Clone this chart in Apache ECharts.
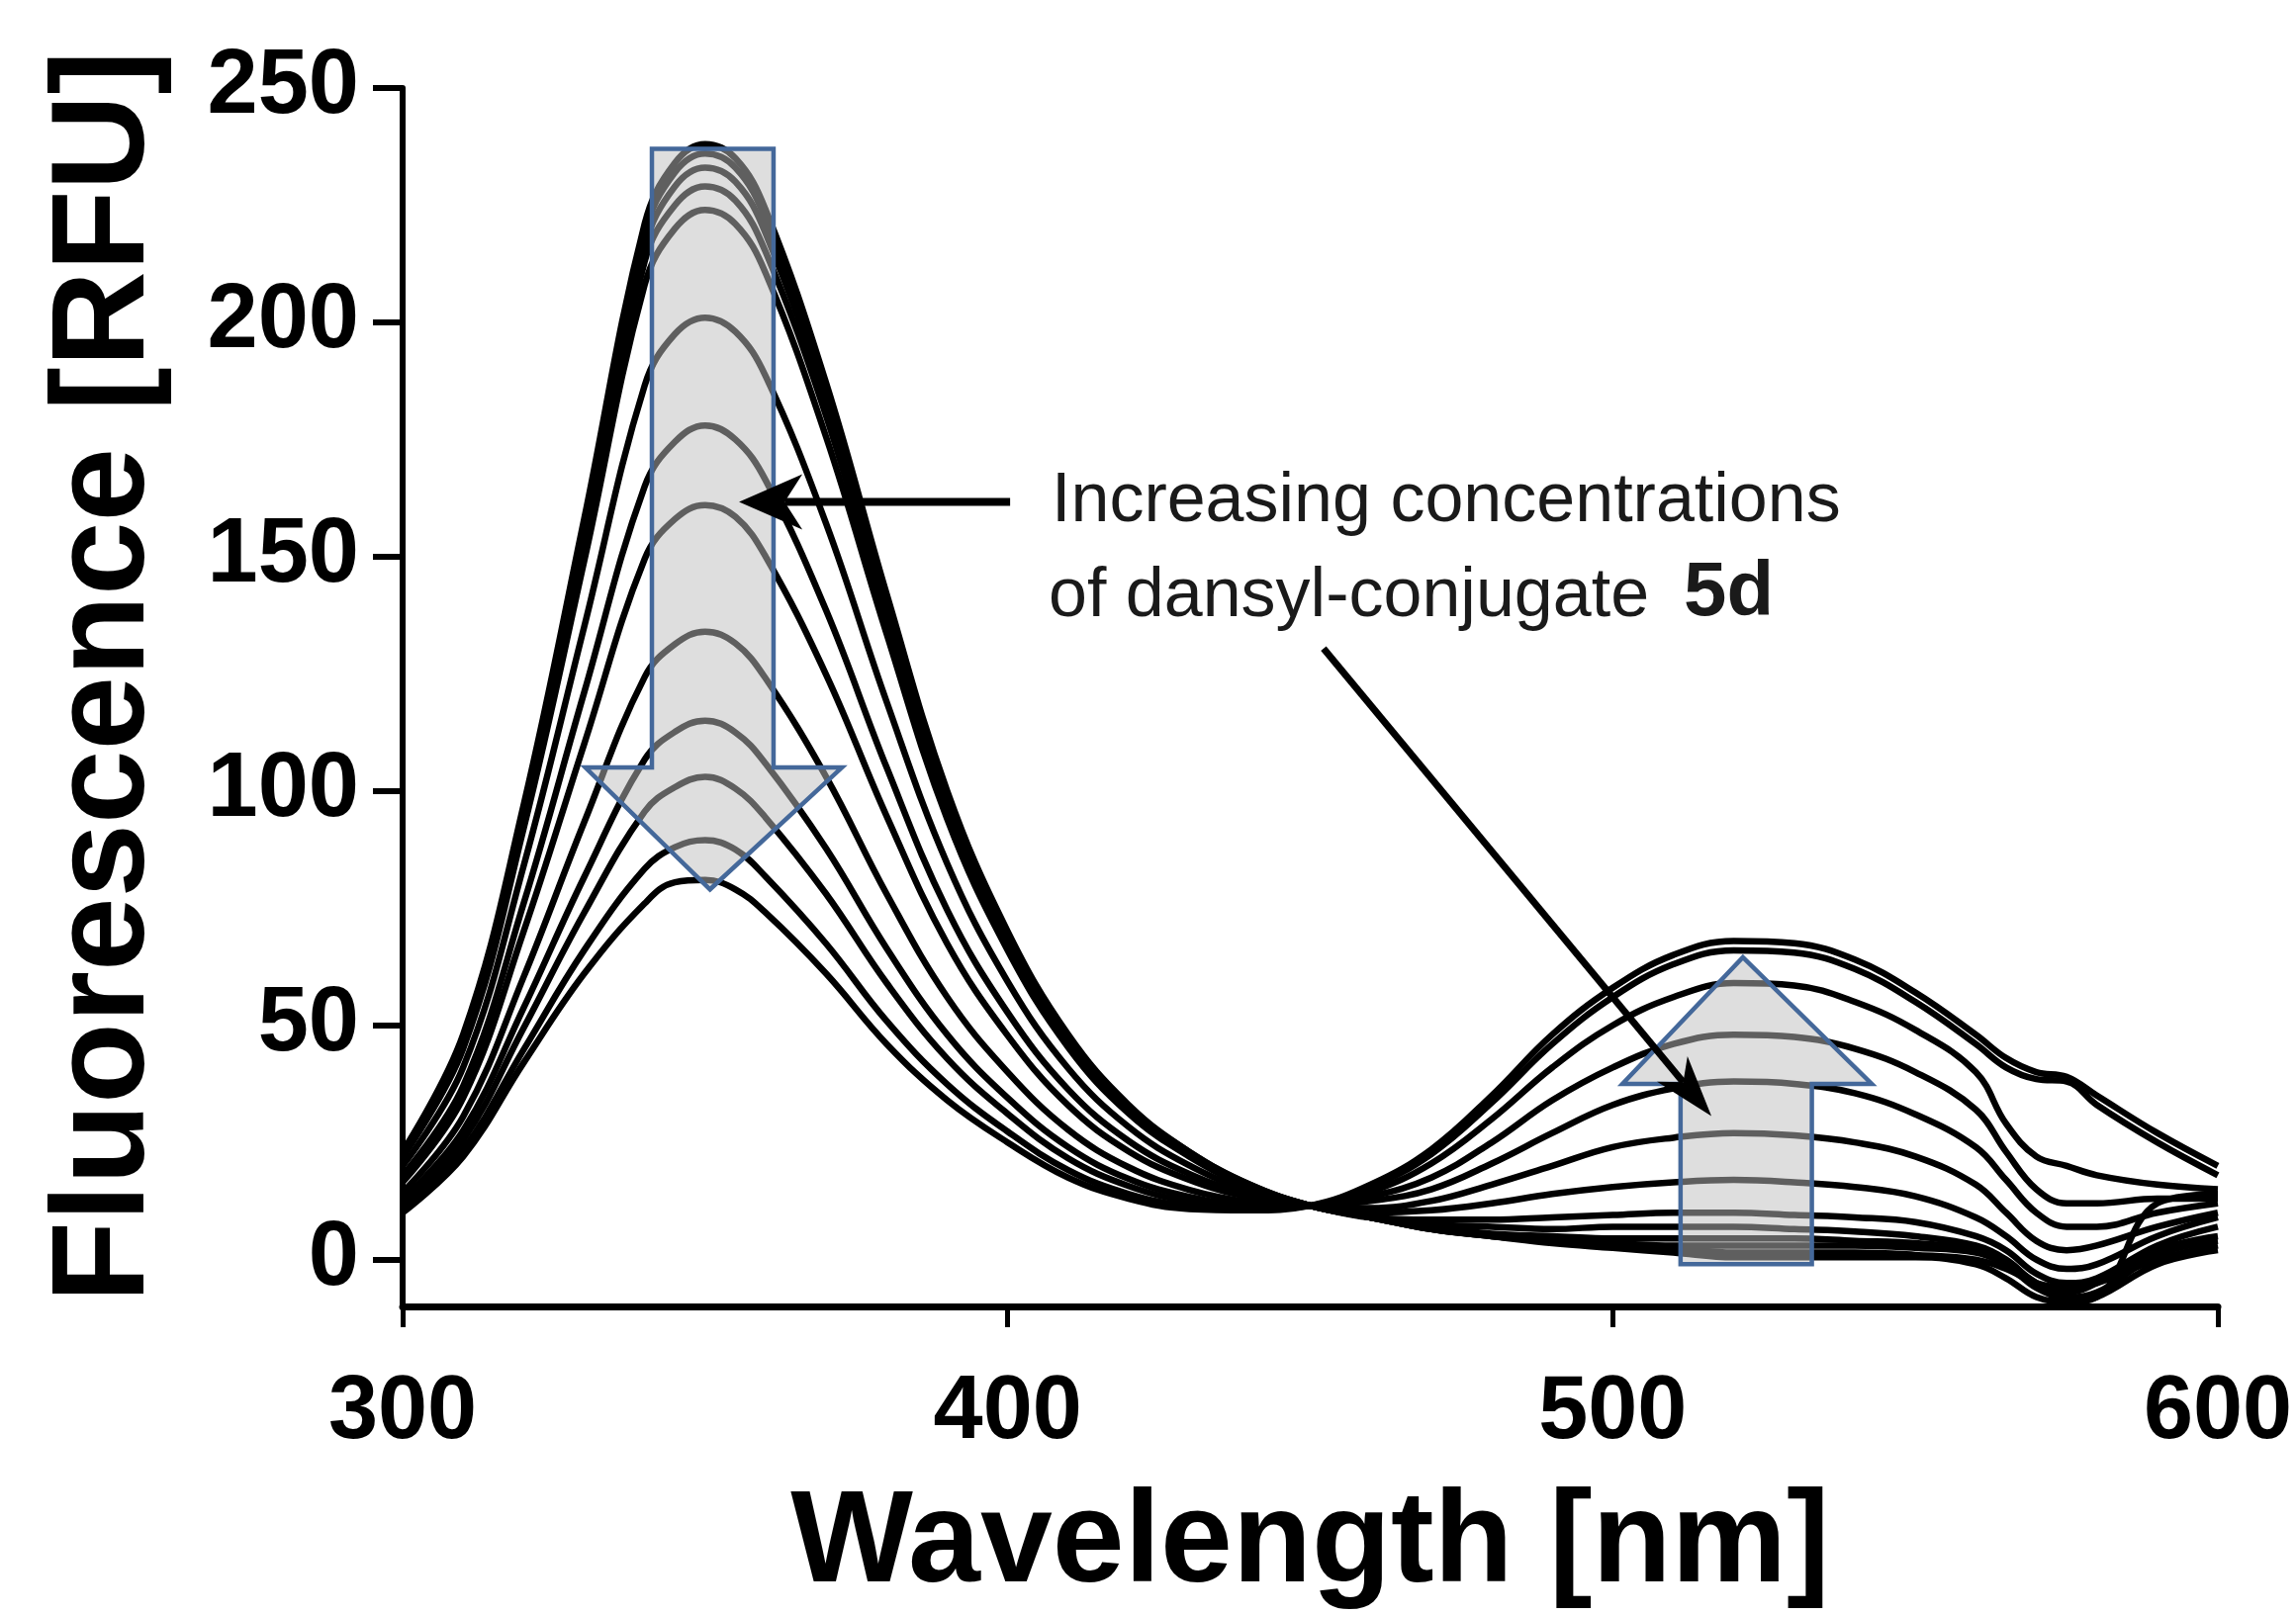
<!DOCTYPE html>
<html>
<head>
<meta charset="utf-8">
<title>Fluorescence vs wavelength</title>
<script src="https://cdn.jsdelivr.net/npm/echarts@6/dist/echarts.min.js"></script>
<style>
  html, body { margin: 0; padding: 0; background: #fff; }
  #chart { width: 2321px; height: 1633px; }
</style>
</head>
<body>
<div id="chart"></div>
<script>
// emission wavelengths [nm]
var wavelengths = [300, 310, 320, 330, 340, 345, 350, 355, 360, 370, 380, 390, 400, 410, 420, 430, 440, 450,
  460, 470, 480, 490, 500, 510, 520, 530, 540, 550, 560, 565, 570, 575, 580, 590, 600];
var xTicks = [300, 400, 500, 600];
var yTicks = [0, 50, 100, 150, 200, 250];

// spectra [RFU], lowest dansyl concentration first
var spec0 = [23, 48, 97, 158, 221, 234, 238, 235, 224, 187, 142, 100, 70, 48, 33, 23, 16, 11.5,
  9, 6.5, 5, 3.5, 2.5, 1.5, 0.5, 0.5, 0.5, 0.5, -1, -4, -8, -9, -8, -1, 2];
var spec1 = [23, 47.5, 96, 157, 219, 232, 236, 233, 222, 185.5, 141, 99, 69.5, 47.5, 32.5, 23, 16, 11.5,
  9, 6.5, 5, 4, 3, 2.5, 1.5, 1.5, 1.5, 1, 0, -2, -5, -6, -5, 0, 3];
var spec2 = [22.5, 46.5, 95, 155, 216, 229, 233, 230, 219, 183, 139, 98, 68.5, 47, 32.5, 22.5, 15.8, 11.5,
  9, 6.5, 5, 4, 3.5, 3, 3, 3, 3, 2.5, 1.5, -1, -5, -9, -8, 12, 14];
var spec3 = [22, 45.5, 94, 152, 213, 225, 229, 226, 215, 180, 136.5, 96, 67.5, 46, 32, 22.3, 15.7, 11.5,
  9, 7, 5.5, 5, 4.5, 4.5, 4.5, 4.5, 4, 3.5, 2, -1, -6, -8, -7, 1, 4];
var spec4 = [22, 45, 92, 149, 208, 220, 224, 221, 210.5, 175.5, 133.5, 94, 66, 45.3, 31.2, 22, 15.5, 11.5,
  9, 7.5, 7, 6.5, 7, 7, 7, 6.5, 6, 5, 3, 0, -5, -7, -5, 2, 5];
var spec5 = [20, 41, 84, 135, 186.5, 197.5, 201, 198, 188.5, 157, 119, 84.5, 59.3, 40.8, 28.3, 20.1, 14.7, 11.5,
  9, 8.5, 8.5, 9, 9.5, 10, 10, 9.5, 9, 8, 5, 2, -3, -5, -4, 3, 7];
var spec6 = [18, 37, 76, 121, 165, 174.5, 178, 175, 166.3, 138.5, 105, 74.6, 52.7, 36.3, 25.3, 18.3, 13.9, 11.5,
  10, 10.5, 12, 14, 15.5, 16.5, 17, 16.5, 15.5, 13.5, 9, 5, 0, -2, -1, 5, 9];
var spec7 = [16.5, 34.5, 70, 110, 149.5, 158, 161, 158.5, 150, 124.8, 94.6, 67.4, 47.8, 32.9, 23.1, 17, 13.3, 11.5,
  11, 12.5, 16, 20, 24, 26, 27, 26.5, 25, 22, 16, 10, 4, 2, 3, 7, 10];
var spec8 = [14.3, 30.5, 60.3, 93.3, 124.3, 131.3, 134, 131.5, 124, 103, 78, 56, 40, 27.7, 19.7, 14.9, 12.3, 11.5,
  12.5, 15, 20.5, 27, 33, 36.5, 38, 37.5, 35.5, 31, 24, 17, 10, 7, 7, 10, 12];
var spec9 = [12.8, 27.5, 53.7, 81.6, 106.7, 112.6, 115, 112.5, 105.8, 87.7, 66.4, 48, 34.5, 24, 17.2, 13.4, 11.7, 11.5,
  13.5, 17.5, 25, 34, 41, 46, 48, 47.5, 45, 40, 32, 23, 15, 12, 12, 13, 13];
var spec10 = [11.8, 25.5, 49.4, 74, 95.6, 100.8, 103, 100.5, 94.3, 78, 59, 42.9, 31.1, 21.6, 15.7, 12.4, 11.2, 11.5,
  14.5, 20.5, 30, 41, 50, 56, 59, 58.5, 55, 49, 40, 29, 22, 20, 18, 16, 15];
var spec11 = [10.7, 23.5, 44.8, 66, 83.4, 88, 89.5, 87.5, 81.7, 67.4, 50.9, 37.4, 27.3, 19.1, 14, 11.4, 10.8, 11.5,
  15.5, 22.5, 33.5, 46, 56, 63, 66, 65.5, 62, 55, 46, 41, 38.5, 38, 33, 25, 18];
var spec12 = [10, 22, 42, 61, 76, 80.5, 81, 79, 74, 61, 46, 34, 25, 17.5, 13, 10.8, 10.5, 11.5,
  16, 23.5, 35, 48, 58, 65, 68, 67.5, 64, 57, 48, 43, 40, 39, 35, 27, 20];

var spectra = [spec0, spec1, spec2, spec3, spec4, spec5, spec6, spec7, spec8, spec9, spec10, spec11, spec12];

// annotation geometry in data units [nm, RFU]
var downArrow = [[341.2, 237], [361.3, 237], [361.3, 105], [372.6, 105], [350.8, 79], [330.2, 105], [341.2, 105]];
var upArrow = [[511.2, -1], [532.9, -1], [532.9, 37.5], [542.8, 37.5], [521.5, 64.5], [501.6, 37.5], [511.2, 37.5]];
var pointer1 = { from: [400.4, 161.7], to: [355.6, 161.7] };
var pointer2 = { from: [452.2, 130.4], to: [516.3, 30.6] };

var FONT = '"Liberation Sans", Arial, Helvetica, sans-serif';

var chart = echarts.init(document.getElementById('chart'));

var series = spectra.map(function (vals, k) {
  return {
    name: 'c' + k,
    type: 'line',
    smooth: 0.4,
    symbol: 'none',
    lineStyle: { color: '#000', width: 6.5 },
    data: wavelengths.map(function (w, i) { return [w, vals[i]]; }),
    z: 2
  };
});

var option = {
  backgroundColor: '#fff',
  animation: false,
  grid: { left: 407, right: 79, top: 89, bottom: 304, containLabel: false },
  xAxis: {
    type: 'value',
    min: 300,
    max: 600,
    interval: 100,
    name: 'Wavelength [nm]',
    nameLocation: 'middle',
    nameGap: 176,
    nameTextStyle: { fontFamily: FONT, fontWeight: 'bold', fontSize: 131, color: '#000' },
    axisLine: { onZero: false, lineStyle: { color: '#000', width: 7 } },
    axisTick: { show: true, length: 21, lineStyle: { color: '#000', width: 5 } },
    axisLabel: {
      margin: 63,
      fontFamily: FONT,
      fontWeight: 'bold',
      fontSize: 90,
      color: '#000',
      customValues: xTicks
    },
    splitLine: { show: false }
  },
  yAxis: {
    type: 'value',
    min: -10,
    max: 250,
    name: 'Fluorescence [RFU]',
    nameLocation: 'middle',
    nameGap: 232,
    nameTextStyle: { fontFamily: FONT, fontWeight: 'bold', fontSize: 134, color: '#000', padding: [0, 0, 0, 42] },
    axisLine: { show: true, lineStyle: { color: '#000', width: 6 } },
    axisTick: { show: true, length: 30, lineStyle: { color: '#000', width: 6 }, customValues: yTicks },
    axisLabel: {
      margin: 44,
      fontFamily: FONT,
      fontWeight: 'bold',
      fontSize: 92,
      color: '#000',
      customValues: yTicks
    },
    splitLine: { show: false }
  },
  series: series
};

chart.setOption(option);

function px(p) { return chart.convertToPixel({ gridIndex: 0 }, p); }

function pointer(a, lineW, len, half) {
  var tail = px(a.from), tip = px(a.to);
  var dx = tip[0] - tail[0], dy = tip[1] - tail[1];
  var d = Math.sqrt(dx * dx + dy * dy);
  var ux = dx / d, uy = dy / d, nx = -uy, ny = ux;
  var bx = tip[0] - ux * len, by = tip[1] - uy * len;
  var notch = [tip[0] - ux * len * 0.72, tip[1] - uy * len * 0.72];
  return [
    {
      type: 'line', z: 60,
      shape: { x1: tail[0], y1: tail[1], x2: notch[0], y2: notch[1] },
      style: { stroke: '#000', lineWidth: lineW }
    },
    {
      type: 'polygon', z: 61,
      shape: { points: [tip, [bx + nx * half, by + ny * half], notch, [bx - nx * half, by - ny * half]] },
      style: { fill: '#000' }
    }
  ];
}

function blockArrow(pts) {
  return {
    type: 'polygon', z: 50,
    shape: { points: pts.map(px) },
    style: { fill: 'rgba(190,190,190,0.5)', stroke: '#44689a', lineWidth: 4.5, lineJoin: 'miter' }
  };
}

var graphics = [blockArrow(downArrow), blockArrow(upArrow)]
  .concat(pointer(pointer1, 8, 64, 28))
  .concat(pointer(pointer2, 7, 62, 20));

graphics.push(
  {
    type: 'text', z: 70, x: 1063, y: 508,
    style: { text: 'Increasing concentrations', fontFamily: FONT, fontSize: 70, fill: '#1a1a1a', verticalAlign: 'middle', align: 'left' }
  },
  {
    type: 'text', z: 70, x: 1060, y: 604,
    style: { text: 'of dansyl-conjugate', fontFamily: FONT, fontSize: 70, fill: '#1a1a1a', verticalAlign: 'middle', align: 'left' }
  },
  {
    type: 'text', z: 70, x: 1702, y: 600,
    style: { text: '5d', fontFamily: FONT, fontWeight: 'bold', fontSize: 78, fill: '#1a1a1a', verticalAlign: 'middle', align: 'left' }
  }
);

chart.setOption({ graphic: graphics });
</script>
</body>
</html>
